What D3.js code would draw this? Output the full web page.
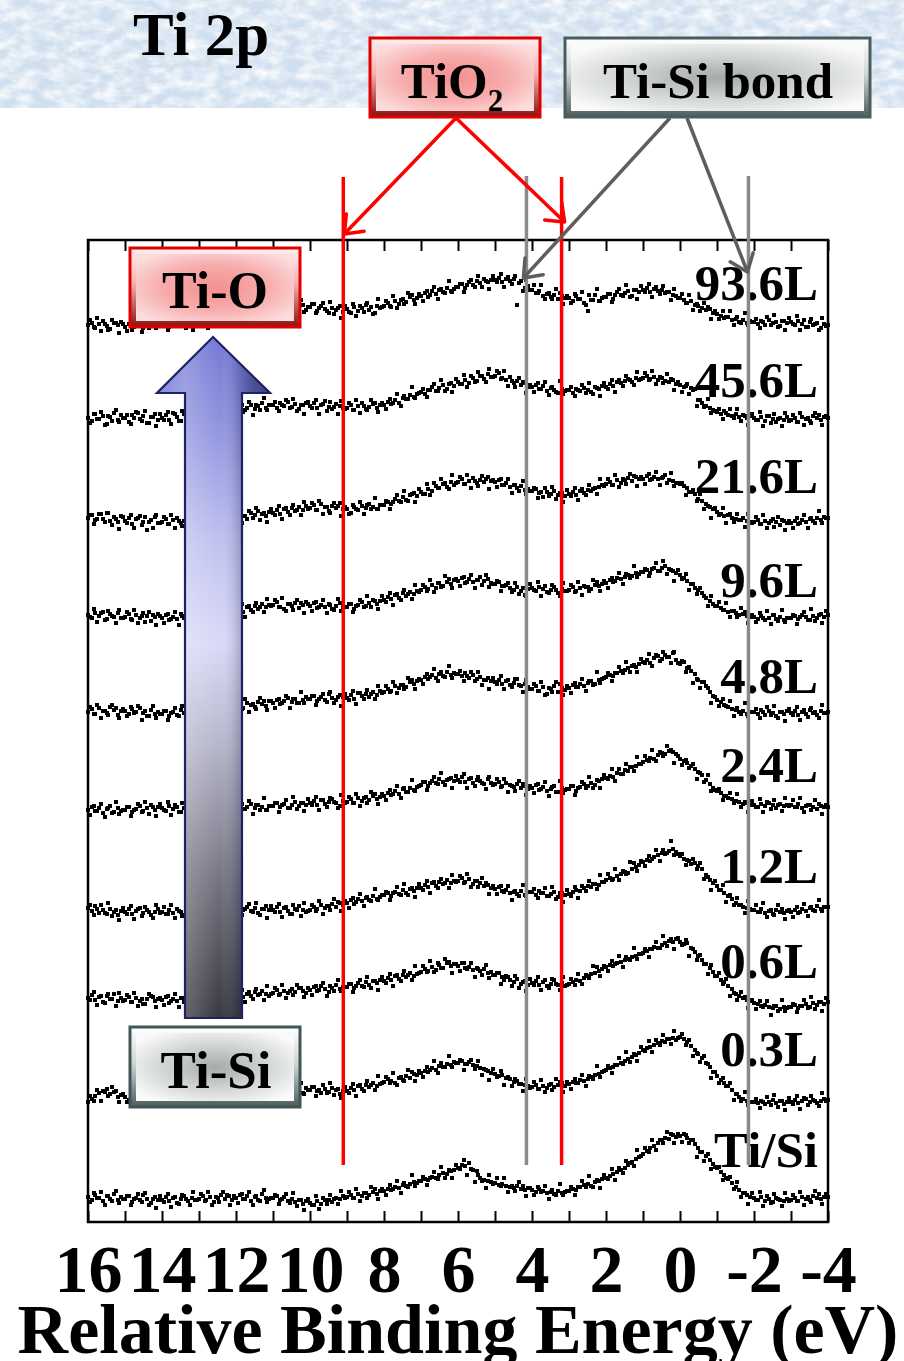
<!DOCTYPE html>
<html><head><meta charset="utf-8">
<script src="https://cdn.jsdelivr.net/npm/d3@7"></script>
<style>body{margin:0;background:#fff}svg{display:block}</style>
</head><body><svg id="c" width="904" height="1361"></svg>
<script>
// ---------------- DATA ----------------
const energyStart = 16, energyStep = 0.1;           // main grid: 16.00, 15.90, ... -4.00 eV
const midStart = 15.95;                             // interleaved grid: 15.95, 15.85, ... -3.95 eV
const xTickValues = [16,15,14,13,12,11,10,9,8,7,6,5,4,3,2,1,0,-1,-2,-3,-4];
const xTickLabels = [16,14,12,10,8,6,4,2,0,-2,-4];
const exposures = ["93.6L","45.6L","21.6L","9.6L","4.8L","2.4L","1.2L","0.6L","0.3L","Ti/Si"];
const offsets = [897,804,704,607,510,412,314,224,120,24];
const tio2Lines = [9.1, 3.2];
const tisiLines = [4.15, -1.85];

const s93_6 = [0,2,-3,1,4,-1,-4,2,0,3, -2,1,-5,0,3,-3,2,-1,4,0, 1,4,-2,3,0,5,2,-1,6,3, 2,6,3,7,1,5,8,4,9,6,
 7,10,5,11,9,13,8,14,11,12, 15,12,17,14,19,13,18,16,20,15, 18,21,14,19,16,12,17,15,19,13, 16,12,18,14,17,20,15,11,19,17,
 19,22,18,24,21,26,23,28,25,27, 29,32,28,34,31,35,33,37,34,36, 38,41,37,43,40,44,42,46,43,45, 45,47,43,46,44,46,20,44,37,39,
 35,32,34,29,31,28,30,26,29,27, 27,24,29,26,22,14,25,30,24,27, 28,31,26,33,30,32,34,29,35,33, 35,37,33,36,34,35,32,33,30,29,
 27,25,22,24,20,19,17,15,16,12, 11,9,7,8,5,6,3,5,2,4, 3,1,4,0,5,2,3,-1,4,2, 3,0,4,1,-2,3,0,2,-3,1, 0];
const m93_6 = [5,-2,7,-6,1,-5,5,2,-8,1, -6,3,-2,6,-7,2,-3,9,-3,1, 4,-5,2,7,-1,9,-3,4,-5,7, 1,10,-3,8,1,10,6,0,14,6,
 12,6,15,3,11,6,17,15,5,15, 8,18,13,21,8,18,13,25,13,18, 21,12,17,22,14,23,11,17,7,19, 13,21,9,19,13,22,18,12,26,18,
 24,19,29,17,25,21,32,30,21,31, 24,34,30,38,26,36,32,44,33,38, 41,33,40,45,38,49,38,44,36,49, 43,51,38,48,41,49,42,34,45,35,
 40,32,40,26,32,26,36,32,21,29, 22,31,26,33,20,30,25,36,24,28, 31,23,30,36,29,40,28,35,26,39, 33,41,28,38,31,39,33,25,36,27,
 31,22,30,15,21,14,22,18,6,14, 6,14,8,14,0,8,2,12,0,3, 6,-3,3,8,0,10,-2,4,-5,7, 1,9,-5,5,-2,6,1,-5,7,-1];
const s45_6 = [0,-3,4,-1,2,-6,1,5,-2,3, 0,-4,3,6,-1,2,-5,1,4,-2, 0,3,-2,5,1,-3,4,2,6,1, 3,6,1,5,8,2,7,4,9,6,
 8,11,6,10,13,9,12,15,10,13, 13,10,15,12,16,11,14,9,13,15, 12,15,10,13,17,11,9,14,12,10, 10,13,8,12,15,9,11,14,10,13,
 13,16,14,18,15,20,19,23,21,24, 26,24,28,31,27,30,33,29,35,32, 36,34,38,35,40,37,42,39,44,41, 42,45,40,38,41,35,37,33,35,31,
 31,33,29,32,27,30,28,25,29,27, 28,25,29,27,30,28,26,31,29,32, 31,34,32,36,35,37,39,36,40,38, 40,42,39,41,38,40,37,36,38,34,
 33,31,34,30,29,18,15,12,10,8, 6,4,7,3,2,4,1,3,0,2, 0,-2,1,-3,2,-1,-4,0,-2,1, -2,0,-4,1,-1,-3,2,0,-2,1, 0];
const m45_6 = [-5,4,-1,6,-7,2,-3,8,-4,0, 3,-6,0,5,-3,7,-5,1,-8,4, -2,6,-6,4,-3,7,2,-4,10,2, 8,2,11,-1,6,2,12,10,0,10,
 3,13,8,16,3,13,8,20,8,13, 16,7,13,18,10,19,7,13,4,16, 10,18,4,14,7,16,11,4,17,9, 15,8,18,5,12,8,18,15,6,15,
 9,19,15,24,12,22,19,31,20,25, 29,21,28,34,27,38,27,34,26,39, 34,43,31,42,36,46,42,36,49,41, 47,39,47,32,37,31,40,36,25,33,
 26,35,29,36,23,31,26,37,24,28, 31,22,28,33,25,35,24,30,22,35, 29,38,26,38,32,42,38,33,46,39, 45,38,47,34,41,35,44,39,28,36,
 26,32,24,28,12,18,11,19,5,7, 9,-1,5,9,0,9,-3,2,-7,4, -2,6,-8,2,-5,4,-1,-8,5,-3, 3,-4,5,-7,0,-5,5,3,-7,2];
const s21_6 = [0,3,-2,4,-1,5,-3,1,-4,2, -3,0,-6,-1,2,-4,-12,-2,1,-5, -4,-1,-6,-2,0,-5,-3,-7,-2,-4, -5,-3,0,-4,-1,2,-2,1,3,0,
 1,4,2,-1,5,3,7,4,2,6, 5,8,4,9,6,10,7,11,8,12, 10,13,8,14,11,7,12,10,15,9, 9,5,11,8,12,10,14,11,9,13,
 13,16,14,19,17,21,18,23,25,22, 26,24,29,27,32,30,34,31,36,33, 36,39,34,37,40,35,38,36,41,37, 36,38,33,35,31,33,30,32,28,29,
 27,29,25,21,26,24,27,23,25,22, 24,26,23,27,25,28,27,30,31,33, 34,36,33,38,35,38,40,37,41,39, 39,42,38,41,39,40,43,38,37,35,
 34,32,30,26,24,19,17,14,11,9, 6,4,2,3,0,-1,-2,0,-3,-4, -4,-2,-6,-3,-5,-1,-4,-7,-3,-5, -5,-3,-6,-2,-4,-1,-3,0,-2,1, 0];
const m21_6 = [3,-6,-1,4,-4,5,-7,-1,-11,1, -5,3,-10,0,-7,1,-4,-10,3,-5, 1,-6,3,-10,-3,-8,1,-2,-12,-3, -10,0,-5,3,-9,0,-4,8,-4,1,
 4,-5,2,7,0,10,-2,5,-4,9, 3,12,-1,10,3,13,8,3,16,9, 15,8,17,4,11,5,15,12,2,11, 4,13,9,16,4,13,9,20,9,13,
 17,9,16,23,16,27,17,24,16,29, 24,34,23,35,30,39,35,29,43,35, 41,34,43,30,37,32,42,39,29,38, 31,39,33,39,25,33,27,37,24,27,
 30,20,26,30,22,31,19,25,16,28, 22,30,18,29,23,33,29,24,39,32, 39,33,43,31,39,34,44,42,32,41, 34,44,39,46,33,41,35,45,32,35,
 35,23,26,28,17,24,9,12,0,10, 3,10,-5,4,-4,4,-2,-9,4,-5, 1,-6,3,-10,-3,-9,1,-2,-12,-3, -10,0,-5,3,-10,0,-5,7,-5,0];
const s9_6 = [0,-3,2,-1,3,-4,1,-2,2,-3, -2,1,-5,0,-3,2,-1,-6,-2,1, -3,0,-5,-2,-4,1,-3,-1,-6,-2, -2,1,-1,3,0,2,5,1,4,2,
 4,7,3,8,5,9,6,11,8,10, 10,13,8,6,11,9,12,7,10,13, 9,12,7,10,8,11,6,9,12,8, 8,11,6,10,13,9,12,15,11,14,
 15,18,16,20,17,22,19,23,21,24, 25,28,26,30,27,32,29,33,31,35, 34,37,32,36,33,35,38,34,36,32, 31,33,29,30,27,25,28,24,20,26,
 27,24,28,26,23,25,28,22,26,24, 25,28,24,27,29,28,26,30,29,31, 32,35,33,37,36,38,40,39,42,41, 43,45,42,47,44,47,49,46,44,42,
 40,37,34,31,27,25,22,17,14,11, 9,7,5,3,4,2,0,1,-1,-2, -2,-4,-1,-5,-3,0,-4,-2,-5,-3, -3,-1,-4,0,-2,-5,-1,-3,1,-2, 0];
const m9_6 = [-2,6,-7,2,-5,4,-1,-8,5,-3, 3,-4,5,-8,-1,-7,3,0,-10,-1, -8,1,-4,3,-10,-1,-5,6,-6,-2, 1,-7,-1,5,-2,8,-3,4,-5,8,
 2,11,-2,9,3,12,8,3,16,9, 15,8,17,4,11,5,15,12,2,11, 4,13,8,15,2,10,5,16,4,8, 11,3,9,15,8,19,8,14,6,19,
 13,22,10,21,15,25,21,16,30,23, 30,24,35,23,32,28,39,36,27,36, 29,38,33,40,27,35,30,40,28,31, 34,24,29,32,23,32,21,27,19,31,
 25,33,19,29,22,30,25,19,32,24, 30,23,33,20,28,24,35,33,24,34, 27,37,34,42,31,41,37,49,38,43, 46,39,46,52,44,54,41,45,34,45,
 36,41,25,31,21,27,19,9,19,9, 13,5,12,-2,4,-2,7,3,-8,0, -7,2,-3,4,-9,0,-6,5,-7,-3, 0,-9,-2,3,-5,6,-6,0,-8,4];
const s4_8 = [0,3,-2,4,1,-1,5,2,-3,1, 1,-2,3,0,4,-1,-4,2,-2,0, -2,1,-4,0,-3,2,-1,-5,1,-2, 0,3,1,5,2,6,4,7,3,6,
 5,8,4,9,7,5,10,8,6,11, 9,12,8,11,14,10,13,9,12,15, 13,16,11,15,12,18,14,12,17,15, 14,17,13,19,16,18,15,20,17,21,
 20,23,21,26,24,27,25,30,28,31, 32,35,33,37,34,38,36,40,37,39, 38,36,39,34,37,33,35,32,34,31, 30,32,28,31,27,29,33,26,28,25,
 23,26,21,25,18,23,26,20,24,22, 24,27,25,28,26,29,31,28,32,33, 35,37,36,39,41,42,44,46,45,48, 50,52,49,54,56,53,57,55,59,52,
 48,50,44,41,38,32,30,26,20,16, 12,10,7,5,3,2,0,1,-2,0, 0,-2,2,-3,1,-1,-4,0,-2,1, -1,1,-3,0,-2,2,-1,-3,1,-1, 0];
const m4_8 = [5,-2,7,-6,1,-3,7,4,-6,3, -4,5,-1,6,-8,1,-4,6,-6,-2, 1,-8,-1,4,-4,6,-5,1,-8,4, -2,7,-6,5,-2,8,3,-2,11,4,
 10,3,13,0,8,3,14,11,2,11, 4,13,9,16,4,13,9,20,9,13, 16,7,13,18,10,20,9,15,6,18, 12,21,8,19,13,22,18,13,26,19,
 26,20,30,19,27,23,34,32,23,33, 28,38,35,43,31,40,35,46,34,38, 41,31,36,40,31,40,27,32,23,34, 28,36,23,32,25,33,27,20,32,23,
 28,21,30,17,24,20,30,28,17,26, 19,29,25,33,21,31,27,40,29,34, 39,31,39,45,39,50,40,47,40,53, 49,58,46,57,51,60,55,49,60,49,
 51,40,45,29,33,24,30,24,9,15, 6,13,6,11,-4,4,-2,9,-4,0, 3,-6,0,5,-3,6,-6,0,-9,3, -3,5,-8,2,-5,4,0,-6,7,-1];
const s2_4 = [0,3,-1,2,-3,1,4,-2,2,-1, 0,3,-2,1,4,-1,2,5,0,3, 2,-1,4,1,3,-2,2,5,0,3, 2,5,0,3,1,4,-1,2,5,1,
 2,4,1,3,6,2,5,3,0,4, 4,7,3,6,2,5,8,4,7,5, 7,9,5,10,6,8,11,7,4,9, 8,11,7,12,9,13,10,14,11,13,
 14,17,15,19,16,21,18,22,20,23, 25,28,24,29,27,31,28,30,32,29, 30,33,28,31,27,30,29,26,31,27, 26,28,24,27,25,23,26,22,24,21,
 22,25,20,23,19,21,24,18,22,20, 21,24,19,23,26,24,27,25,29,31, 32,34,33,37,36,40,39,43,44,46, 48,50,52,51,55,57,56,59,58,56,
 51,49,47,44,41,38,35,30,26,22, 19,17,14,12,11,9,8,6,7,5, 5,3,6,4,7,5,2,6,4,5, 5,3,6,2,4,5,3,1,4,3, 3];
const m2_4 = [-5,4,-1,6,-7,2,-3,8,-4,0, 3,-6,0,6,-2,8,-4,3,-6,6, 0,8,-5,5,-2,7,2,-4,9,1, 7,0,9,-4,3,-2,8,5,-5,4,
 -3,6,1,9,-4,5,0,12,0,4, 7,-2,5,10,2,13,1,7,-1,11, 5,13,0,10,3,12,8,2,15,7, 13,7,16,4,12,7,18,16,6,16,
 10,20,16,24,12,22,18,30,19,24, 28,20,27,33,26,37,25,31,22,34, 28,36,22,32,24,33,27,21,33,25, 31,23,31,18,24,19,29,26,15,24,
 17,26,21,28,14,23,18,29,17,21, 24,15,22,28,22,33,22,30,22,35, 31,41,29,41,36,46,43,39,53,46, 54,49,60,49,58,54,64,60,47,54,
 45,50,42,46,31,37,28,35,19,20, 21,10,14,17,7,16,3,8,-2,9, 3,11,-2,8,1,10,5,-1,12,4, 10,3,12,-2,5,0,10,6,-4,5];
const s1_2 = [0,-3,2,-5,-2,-6,-1,-4,-7,-3, -4,-1,-6,-3,0,-5,-2,-7,-4,-1, -4,-6,-2,-5,-1,-4,-7,-3,-5,-2, -4,-1,-3,0,-2,-4,1,-1,-3,0,
 -1,2,-2,1,-3,0,-5,-1,2,-2, -2,1,-4,0,-3,-6,-1,2,-2,-4, -2,1,-1,3,0,2,4,1,5,3, 5,8,4,9,7,10,8,12,9,11,
 13,15,12,16,14,18,15,19,17,20, 20,23,21,25,22,26,24,28,25,27, 27,30,26,29,24,27,25,22,23,20, 19,21,17,18,15,16,14,17,13,16,
 16,13,17,15,12,14,16,11,15,13, 14,16,18,17,20,22,21,24,23,26, 28,30,29,32,34,36,35,39,41,43, 46,48,47,51,53,55,54,57,59,56,
 52,49,48,44,45,42,39,33,28,25, 22,18,15,12,9,5,3,1,0,-1, -2,-4,-1,-5,-3,-6,-2,-4,-5,-3, -4,-2,-5,-1,-3,0,-2,2,-1,1, 1];
const m1_2 = [3,-7,-1,3,-5,5,-8,-2,-12,0, -6,2,-11,-1,-8,1,-4,-10,3,-5, 1,-6,3,-10,-3,-8,2,-1,-11,-2, -9,0,-4,3,-10,0,-5,6,-5,-1,
 2,-7,-1,4,-4,5,-7,-1,-10,2, -4,4,-9,1,-6,3,-2,-8,5,-3, 3,-3,7,-6,2,-2,9,6,-3,7, 0,10,6,14,2,11,7,19,8,13,
 16,8,15,21,13,24,13,20,11,24, 18,27,15,26,20,29,25,20,33,26, 32,25,34,21,27,21,30,25,14,22, 14,22,16,22,8,17,12,23,12,16,
 19,10,15,20,12,21,9,15,6,18, 12,21,10,22,17,27,24,19,33,26, 34,28,39,28,37,34,46,45,37,47, 42,52,49,58,47,58,55,67,53,54,
 54,43,47,49,39,45,29,31,18,27, 18,23,6,13,3,10,3,-5,7,-2, 3,-4,5,-9,-2,-7,3,-1,-11,-2, -9,1,-4,4,-8,1,-3,8,-3,1];
const s0_6 = [0,3,-2,1,-4,2,-1,4,-3,0, -2,1,-4,0,-3,-6,-1,2,-3,-1, -2,1,-5,-1,-3,0,-4,-2,1,-3, -2,1,-1,2,0,3,-1,2,4,1,
 2,5,1,4,2,6,3,7,4,2, 5,8,4,7,5,9,6,10,7,5, 8,11,7,12,9,6,10,13,9,11, 11,14,10,15,12,16,13,17,15,18,
 17,20,18,22,19,23,21,25,22,24, 26,29,27,31,28,33,30,35,32,34, 32,35,30,31,28,30,27,29,25,26, 23,25,21,22,18,16,19,14,17,13,
 15,17,13,16,12,14,18,13,15,12, 14,16,18,17,20,22,24,25,27,29, 31,33,32,35,36,38,39,41,42,44, 45,47,49,51,50,53,55,57,56,59,
 56,54,55,50,46,42,38,34,30,26, 22,18,16,12,9,4,2,0,-2,-3, -5,-6,-8,-7,-9,-10,-8,-11,-9,-10, -9,-7,-10,-8,-6,-9,-5,-7,-4,-6, -4];
const m0_6 = [-2,6,-7,2,-5,4,-1,-8,5,-3, 3,-4,5,-8,-1,-6,4,1,-9,0, -7,2,-3,4,-9,0,-5,6,-6,-2, 1,-8,-1,4,-3,7,-4,2,-6,6,
 0,8,-4,6,-1,9,4,-2,12,4, 10,3,13,0,7,3,13,10,1,10, 3,12,8,15,2,12,7,18,7,11, 14,6,12,18,11,21,10,17,8,21,
 15,24,12,23,17,27,23,18,32,25, 32,26,37,26,35,30,39,36,25,34, 27,35,29,35,21,29,23,33,20,23, 25,14,18,21,12,22,10,16,7,19,
 13,21,8,18,10,19,14,8,21,13, 19,13,24,14,23,20,32,31,22,32, 27,37,34,42,31,41,38,50,39,44, 49,41,49,56,50,62,52,59,49,60,
 53,58,42,49,38,43,34,24,33,22, 25,14,19,2,5,-2,6,1,-10,-2, -11,-3,-9,-3,-17,-8,-13,-2,-13,-9, -6,-14,-8,-2,-10,1,-11,-4,-13,0];
const s0_3 = [0,3,6,9,11,13,8,10,5,7, 5,2,6,3,7,4,1,5,3,6, 4,7,2,5,3,6,4,8,5,3, 5,8,4,7,5,9,6,4,8,6,
 7,10,6,9,7,11,8,6,10,8, 9,12,8,11,9,13,10,12,9,14, 12,15,11,9,13,10,14,12,8,11, 11,14,12,16,13,17,15,19,16,18,
 20,23,21,19,24,22,26,24,28,27, 29,31,30,34,32,36,35,38,37,40, 39,41,38,40,37,36,34,33,31,29, 28,26,27,24,23,20,21,18,17,16,
 15,17,13,16,14,18,15,17,19,16, 18,20,19,22,21,23,25,27,28,30, 32,34,35,37,39,41,43,45,47,49, 52,54,55,57,59,61,60,63,64,62,
 65,63,60,56,52,48,44,39,35,30, 26,22,19,16,12,8,5,3,1,0, 0,-1,1,-2,0,2,-1,1,-2,0, 0,2,-1,1,3,0,2,-1,1,3, 2];
const m0_3 = [6,1,12,1,10,6,15,11,0,8, 0,9,4,11,-2,7,1,12,0,4, 7,-2,4,9,1,11,-1,6,-3,9, 3,11,-2,9,2,11,6,1,14,6,
 12,5,14,2,9,4,14,12,2,11, 4,13,9,16,3,13,8,19,8,12, 15,6,12,17,9,19,7,13,4,15, 9,18,6,17,11,21,17,12,26,19,
 25,19,29,17,25,21,32,30,21,31, 25,35,32,41,29,39,35,46,35,39, 42,32,38,42,33,41,27,32,22,33, 25,31,17,25,16,23,18,11,23,14,
 20,13,22,10,17,12,23,20,10,20, 13,23,19,27,16,26,23,36,25,31, 36,29,37,44,38,50,40,48,41,55, 51,61,50,62,57,67,63,58,71,64,
 68,57,62,46,49,40,46,38,24,30, 19,24,16,19,2,8,1,10,-3,0, 3,-6,0,5,-3,7,-5,1,-8,4, -2,6,-7,4,-3,6,1,-4,9,1];
const sTiSi = [1,-2,3,0,-3,2,-1,4,-2,1, -1,2,-4,0,-2,3,-1,-5,1,-2, -2,1,-3,0,-5,-1,2,-3,0,-2, -1,2,-2,1,-4,0,3,-1,2,-2,
 0,3,-1,2,-3,1,-2,4,0,-1, 0,2,-2,1,-3,-1,-4,-2,-6,-3, -5,-7,-3,-6,-2,-2,-4,0,-1,2, 1,3,0,4,2,5,3,6,4,7,
 7,9,8,11,10,13,12,14,16,15, 17,19,18,21,20,23,25,24,27,28, 30,33,32,35,28,27,20,18,17,16, 15,13,14,12,11,10,12,9,8,10,
 8,6,9,7,5,6,4,7,5,6, 7,9,8,11,13,14,12,16,17,19, 20,22,24,26,28,30,33,36,39,41, 44,47,50,52,55,58,60,59,63,61,
 62,64,60,58,54,50,46,42,38,34, 30,26,23,19,15,11,8,5,3,1, 0,-2,1,-3,-1,-4,0,-2,-3,-1, -2,0,-3,1,-1,-2,2,0,-1,1, 1];
const mTiSi = [-4,5,0,6,-7,2,-3,7,-5,-1, 2,-7,-1,4,-4,5,-7,-1,-10,2, -4,4,-9,1,-6,3,-1,-7,6,-2, 4,-3,6,-7,1,-4,6,3,-7,2,
 -5,4,-1,6,-7,2,-3,8,-4,0, 3,-6,-1,4,-5,5,-8,-2,-12,-1, -7,2,-11,0,-6,3,-1,-6,7,0, 6,0,9,-3,5,0,11,9,-1,9,
 3,13,9,17,5,15,11,23,12,17, 21,13,20,26,19,31,20,28,20,33, 29,38,23,29,16,23,17,10,23,14, 20,12,20,6,12,7,16,12,2,10,
 3,11,6,12,-1,8,3,14,3,7, 11,3,11,17,11,22,11,18,10,23, 19,29,18,30,25,37,35,32,48,42, 50,46,58,48,58,55,66,64,55,64,
 56,63,55,58,41,46,37,44,29,31, 31,18,20,21,9,16,1,5,-6,5, -2,6,-8,2,-5,4,-1,-8,5,-3, 3,-3,6,-7,1,-4,7,4,-6,4];

const spectra = [s93_6,s45_6,s21_6,s9_6,s4_8,s2_4,s1_2,s0_6,s0_3,sTiSi];
const spectraMid = [m93_6,m45_6,m21_6,m9_6,m4_8,m2_4,m1_2,m0_6,m0_3,mTiSi];

// ---------------- LAYOUT ----------------
const W = 904, H = 1361;
const L = 88, R = 828, T = 240, B = 1222;
const labelBaselines = [300,397,493,597,693,782,883,978,1066,1167];
const serif = "'Liberation Serif','Times New Roman',Times,serif";

const svg = d3.select("#c");
const defs = svg.append("defs");
const x = d3.scaleLinear().domain([16,-4]).range([L,R]);
const y = d3.scaleLinear().domain([0,982]).range([B,T]);

// textured header band
const f = defs.append("filter").attr("id","tex").attr("filterUnits","userSpaceOnUse")
  .attr("x",0).attr("y",0).attr("width",W).attr("height",108);
f.append("feTurbulence").attr("type","fractalNoise").attr("baseFrequency","0.06 0.1")
  .attr("numOctaves",4).attr("seed",11).attr("result","n");
f.append("feColorMatrix").attr("in","n").attr("type","matrix")
  .attr("values","0 0 0 0 1  0 0 0 0 1  0 0 0 0 1  1.7 0 0 0 -0.55");
svg.append("rect").attr("x",0).attr("y",0).attr("width",W).attr("height",108).attr("fill","#d0dfef");
svg.append("rect").attr("x",0).attr("y",0).attr("width",W).attr("height",108).attr("fill","#fff").attr("filter","url(#tex)");

svg.append("text").attr("x",133).attr("y",55).attr("font-family",serif).attr("font-weight","bold")
  .attr("font-size",61).attr("fill","#000").text("Ti 2p");

// spectra points
function drawPoints(vals,k,start){
  svg.append("g").attr("shape-rendering","crispEdges").selectAll("rect").data(vals).join("rect")
    .attr("x",(d,i)=>Math.round(x(start - i*energyStep)-2))
    .attr("y",d=>Math.round(y(d+offsets[k])-2))
    .attr("width",4).attr("height",4).attr("fill","#000");
}
spectra.forEach((v,k)=>drawPoints(v,k,energyStart));
spectraMid.forEach((v,k)=>drawPoints(v,k,midStart));

// axes
const xb = d3.axisBottom(x).tickValues(xTickValues).tickSizeInner(-11).tickSizeOuter(0).tickPadding(22)
  .tickFormat(d => xTickLabels.includes(d) ? String(d) : "");
const gb = svg.append("g").attr("transform",`translate(0,${B})`).call(xb);
gb.select(".domain").remove();
gb.selectAll("line").attr("stroke","#000").attr("stroke-width",2);
gb.selectAll("text").attr("font-family",serif).attr("font-weight","bold").attr("font-size",68).attr("fill","#000");
const xt = d3.axisTop(x).tickValues(xTickValues).tickSizeInner(-11).tickSizeOuter(0).tickFormat("");
const gt = svg.append("g").attr("transform",`translate(0,${T})`).call(xt);
gt.select(".domain").remove();
gt.selectAll("line").attr("stroke","#000").attr("stroke-width",2);
svg.append("rect").attr("x",L).attr("y",T).attr("width",R-L).attr("height",B-T)
  .attr("fill","none").attr("stroke","#000").attr("stroke-width",2.5);

svg.append("text").attr("x",458).attr("y",1353).attr("text-anchor","middle").attr("font-family",serif)
  .attr("font-weight","bold").attr("font-size",70).attr("fill","#000").text("Relative Binding Energy (eV)");

// exposure labels
exposures.forEach((t,k)=>{
  svg.append("text").attr("x",818).attr("y",labelBaselines[k]).attr("text-anchor","end")
    .attr("font-family",serif).attr("font-weight","bold").attr("font-size",51).attr("fill","#000").text(t);
});

// reference lines
tio2Lines.forEach(e=>svg.append("line").attr("x1",x(e)).attr("x2",x(e)).attr("y1",177).attr("y2",1165)
  .attr("stroke","#ff0000").attr("stroke-width",3.5));
tisiLines.forEach(e=>svg.append("line").attr("x1",x(e)).attr("x2",x(e)).attr("y1",176).attr("y2",1165)
  .attr("stroke","#8a8a8a").attr("stroke-width",3.5));

// gradients
function lin(id, x1,y1,x2,y2, stops, user){
  const g = defs.append("linearGradient").attr("id",id).attr("x1",x1).attr("y1",y1).attr("x2",x2).attr("y2",y2);
  if(user) g.attr("gradientUnits","userSpaceOnUse");
  stops.forEach(s=>g.append("stop").attr("offset",s[0]).attr("stop-color",s[1]).attr("stop-opacity",s[2]===undefined?1:s[2]));
}
function rad(id, stops){
  const g = defs.append("radialGradient").attr("id",id).attr("cx","50%").attr("cy","50%").attr("r","62%");
  stops.forEach(s=>g.append("stop").attr("offset",s[0]).attr("stop-color",s[1]));
}
lin("bevR","0","0","0","1",[[0,"#fff0f0"],[0.45,"#f6b0b0"],[1,"#8a1010"]]);
rad("faceR",[[0,"#f48f8f"],[0.55,"#f7adad"],[1,"#fcdcdc"]]);
lin("bevS","0","0","0","1",[[0,"#ffffff"],[0.45,"#d0d6d6"],[1,"#4b5c5c"]]);
rad("faceS",[[0,"#a6aaaa"],[0.55,"#d4d7d7"],[1,"#fafafa"]]);

function box(bx,by,bw,bh,border,bev,face){
  svg.append("rect").attr("x",bx).attr("y",by).attr("width",bw).attr("height",bh)
    .attr("fill",`url(#${bev})`).attr("stroke",border).attr("stroke-width",3);
  svg.append("rect").attr("x",bx+6).attr("y",by+6).attr("width",bw-12).attr("height",bh-12)
    .attr("fill",`url(#${face})`);
}
function label(tx,ty,size,txt){
  return svg.append("text").attr("x",tx).attr("y",ty).attr("text-anchor","middle").attr("font-family",serif)
    .attr("font-weight","bold").attr("font-size",size).attr("fill","#000").text(txt);
}

// big arrow
lin("arrV",0,337,0,1018,[[0,"#7479d4"],[0.12,"#8d92de"],[0.3,"#c0c2ef"],[0.45,"#dadaf8"],[0.6,"#b6b6ca"],[0.78,"#7a7a88"],[1,"#383840"]],true);
lin("arrH",157,0,270,0,[[0,"#ffffff",0.0],[0.25,"#ffffff",0.22],[0.55,"#ffffff",0],[0.72,"#0a0c40",0.18],[0.85,"#0a0c40",0.45],[1,"#0a0c40",0.6]],true);
const arrowPath = "M213,337 L270,393 L242,393 L242,1018 L185,1018 L185,393 L157,393 Z";
svg.append("path").attr("d",arrowPath).attr("fill","url(#arrV)");
svg.append("path").attr("d",arrowPath).attr("fill","url(#arrH)").attr("stroke","#1e2262").attr("stroke-width",2.2).attr("stroke-linejoin","miter");

// boxes
box(130,248,170,79,"#e00000","bevR","faceR"); label(215,308,52,"Ti-O");
box(130,1027,170,80,"#405555","bevS","faceS"); label(216,1088,53,"Ti-Si");
box(370,38,170,79,"#e00000","bevR","faceR");
const tio = label(452,98,51,"TiO"); tio.append("tspan").attr("font-size",31).attr("dy",13).text("2");
box(565,38,305,79,"#4a5d5d","bevS","faceS"); label(718,98,51,"Ti-Si bond");

// pointer arrows
function pointer(x1,y1,x2,y2,color){
  svg.append("line").attr("x1",x1).attr("y1",y1).attr("x2",x2).attr("y2",y2)
    .attr("stroke",color).attr("stroke-width",3.5);
  const a = Math.atan2(y1-y2,x1-x2), len = 20, h = 38*Math.PI/180;
  const p = [[x2+len*Math.cos(a+h), y2+len*Math.sin(a+h)],[x2,y2],[x2+len*Math.cos(a-h), y2+len*Math.sin(a-h)]];
  svg.append("path").attr("d",d3.line()(p)).attr("fill","none").attr("stroke",color).attr("stroke-width",3.5)
    .attr("stroke-linecap","round").attr("stroke-linejoin","round");
}
pointer(456,118,x(tio2Lines[0])+1,234,"#ff0000");
pointer(456,118,x(tio2Lines[1])+3,222,"#ff0000");
pointer(670,118,x(tisiLines[0])-3,278,"#5e5e5e");
pointer(687,118,x(tisiLines[1])-1,272,"#5e5e5e");
</script></body></html>
